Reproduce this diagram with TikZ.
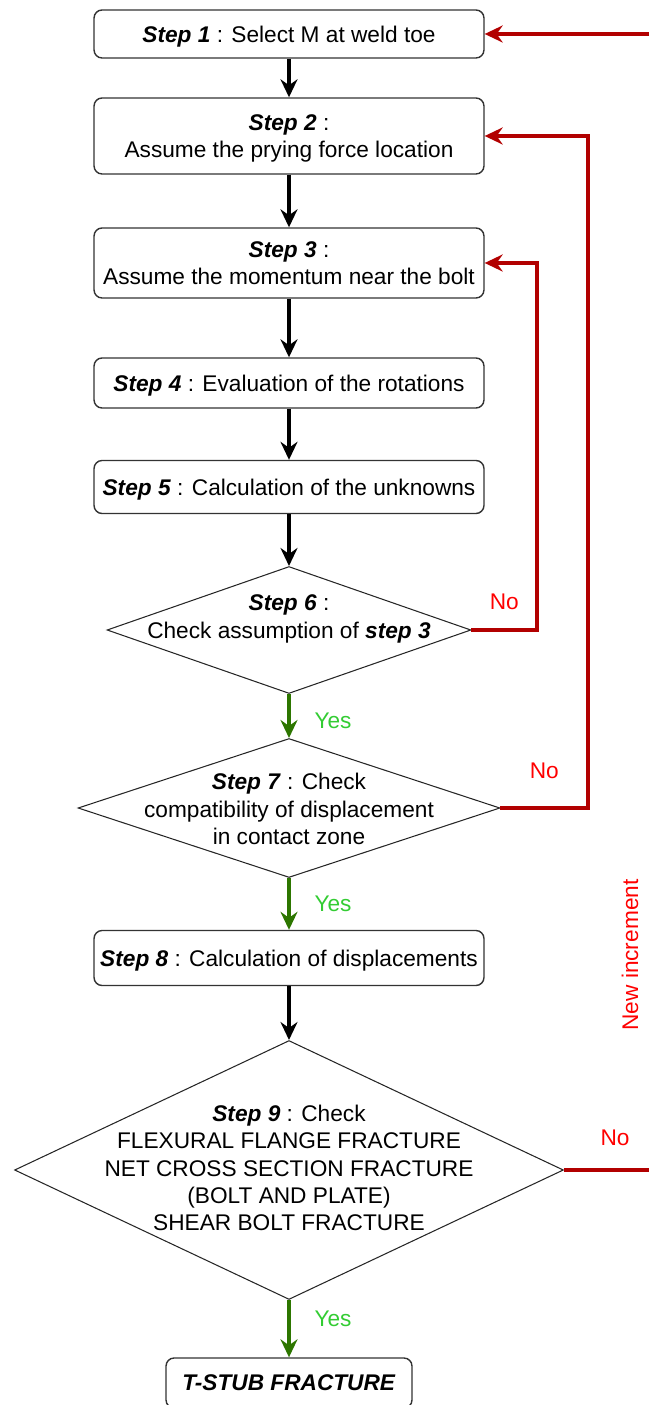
\documentclass[tikz,border=0pt]{standalone}
\usepackage{fontspec}
\setmainfont{Liberation Sans}
\usetikzlibrary{positioning, calc, shapes.geometric, arrows.meta}

\definecolor{loopred}{HTML}{B20000}
\definecolor{nored}{HTML}{FF0000}
\definecolor{yesgreen}{HTML}{2D7600}
\definecolor{yestext}{HTML}{33CC33}

\tikzset{
  stepbox/.style={draw=black!80, line width=0.8pt, rounded corners=0.16cm,
    minimum width=7.8cm, align=center, inner sep=0pt, text depth=0pt},
  decision/.style={diamond, draw=black!85, line width=0.6pt, inner sep=0pt},
  flow/.style={-{Stealth[length=0.36cm, width=0.34cm, inset=0.12cm]}, line width=1.8pt},
  yesflow/.style={flow, color=yesgreen},
  noflow/.style={flow, color=loopred, line width=2.1pt},
  yeslabel/.style={text=yestext, inner sep=0pt},
  nolabel/.style={text=nored, inner sep=0pt}
}
\newcommand{\stp}[1]{\textbf{\textit{#1}}}

\begin{document}
\begin{tikzpicture}[x=0.02cm, y=-0.02cm, font=\fontsize{12.9}{15.5}\selectfont]
  \useasboundingbox (0,0) rectangle (649,1405);

  % steps
  \node[stepbox, minimum height=0.96cm] (s1) at (289,34) {\stp{Step 1} : Select M at weld toe};
  \node[stepbox, minimum height=1.52cm] (s2) at (289,136) {\stp{Step 2} :\\Assume the prying force location};
  \node[stepbox, minimum height=1.4cm] (s3) at (289,263) {\stp{Step 3} :\\Assume the momentum near the bolt};
  \node[stepbox, minimum height=1.0cm] (s4) at (289,383) {\stp{Step 4} : Evaluation of the rotations};
  \node[stepbox, minimum height=1.06cm] (s5) at (289,487) {\stp{Step 5} : Calculation of the unknowns};

  % checks
  \node[decision, minimum width=7.28cm, minimum height=2.54cm] (s6) at (289,630) {};
  \node[align=center] (s6txt) at (289,619) {\stp{Step 6} :\\Check assumption of \stp{step 3}};
  \node[decision, minimum width=8.44cm, minimum height=2.78cm] (s7) at (289,808) {};
  \node[align=center] (s7txt) at (289,809) {\stp{Step 7} : Check\\compatibility of displacement\\in contact zone};

  \node[stepbox, minimum height=1.1cm] (s8) at (289,958) {\stp{Step 8} : Calculation of displacements};

  \node[decision, minimum width=10.98cm, minimum height=5.18cm] (s9) at (289,1170) {};
  \node[align=center] (s9txt) at (289,1168) {\stp{Step 9} : Check\\FLEXURAL FLANGE FRACTURE\\NET CROSS SECTION FRACTURE\\(BOLT AND PLATE)\\SHEAR BOLT FRACTURE};

  \node[stepbox, minimum width=4.92cm, minimum height=1.0cm] (ts) at (289,1383) {\stp{T-STUB FRACTURE}};

  % main flow
  \draw[flow] (s1) -- (s2);
  \draw[flow] (s2) -- (s3);
  \draw[flow] (s3) -- (s4);
  \draw[flow] (s4) -- (s5);
  \draw[flow] (s5) -- (s6);
  \draw[yesflow] (s6) -- node[yeslabel, pos=0.6, right=0.48cm] (y6) {Yes} (s7);
  \draw[yesflow] (s7) -- node[yeslabel, pos=0.5, right=0.48cm] (y7) {Yes} (s8);
  \draw[flow] (s8) -- (s9);
  \draw[yesflow] (s9) -- node[yeslabel, pos=0.32, right=0.48cm] (y9) {Yes} (ts);

  % loops back
  \coordinate (loop3) at (537,630);
  \coordinate (loop2) at (588,808);
  \coordinate (in1) at (649,34);
  \coordinate (out9) at (649,1170);
  \draw[noflow] (s6.east) -- node[nolabel, above=0.36cm] (n6) {No} (loop3) |- (s3.east);
  \draw[noflow] (s7.east) -- node[nolabel, above=0.54cm] (n7) {No} (loop2) |- (s2.east);
  \draw[noflow] (in1) -- (s1.east);
  \draw[line width=2.1pt, loopred] (s9.east) -- node[nolabel, pos=0.6, above=0.44cm] (n9) {No} (out9);

  \node[nolabel, rotate=90] (newinc) at (630,955) {New increment};
\end{tikzpicture}
\end{document}
